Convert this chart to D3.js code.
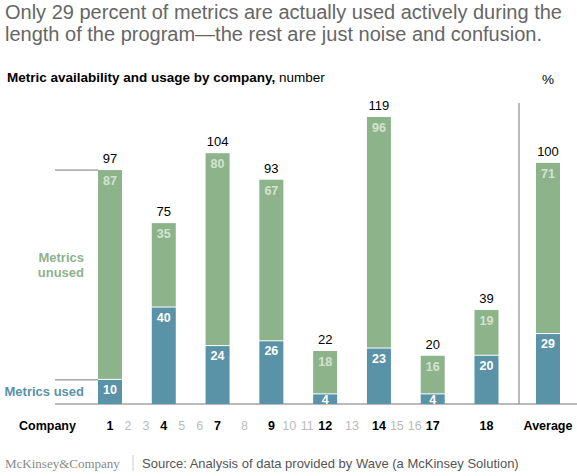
<!DOCTYPE html>
<html>
<head>
  <title>Metric availability and usage</title>
  <script src="https://d3js.org/d3.v7.min.js"></script>
  <style>
    body { margin: 0; font-family: "Liberation Sans", Arial, sans-serif; background: #fff; }
    .title { fill: #666; font-size: 20px; }
    .subtitle { fill: #000; font-size: 13.5px; }
    .total-label { fill: #000; font-size: 13px; text-anchor: middle; }
    .in-label { font-size: 12.5px; font-weight: bold; text-anchor: middle; }
    .co-label { font-size: 12.5px; text-anchor: middle; }
    .foot { fill: #555; font-size: 13px; }
  </style>
</head>
<body>
  <div id="chart"></div>
  <script>
    // data
    const companies = ["1", "4", "7", "9", "12", "14", "17", "18"];
    const usedValues = [10, 40, 24, 26, 4, 23, 4, 20];
    const unusedValues = [87, 35, 80, 67, 18, 96, 16, 19];
    const totals = [97, 75, 104, 93, 22, 119, 20, 39];
    const allCompanies = d3.range(1, 19).map(String);
    const averageUsed = 29;
    const averageUnused = 71;
    const averageTotal = 100;

    const green = "#8db38b";
    const blue = "#5a92a8";

    const width = 577, height = 476;
    const baseY = 404;
    const barW = 24;

    const svg = d3.select("#chart")
      .append("svg")
        .attr("width", width)
        .attr("height", height);

    const x = d3.scalePoint()
      .domain(companies)
      .range([110, 486.5]);
    const xAvg = 548;

    const y = d3.scaleLinear()
      .domain([0, 119])
      .range([baseY, 117]);

    // Title
    const title = svg.append("text").attr("class", "title");
    title.append("tspan").attr("x", 5).attr("y", 19)
      .text("Only 29 percent of metrics are actually used actively during the");
    title.append("tspan").attr("x", 5).attr("y", 41)
      .text("length of the program\u2014the rest are just noise and confusion.");

    const sub = svg.append("text").attr("class", "subtitle").attr("x", 7).attr("y", 82);
    sub.append("tspan").attr("font-weight", "bold").text("Metric availability and usage by company,");
    sub.append("tspan").text(" number");

    svg.append("text")
      .attr("class", "subtitle")
      .attr("x", xAvg)
      .attr("y", 84)
      .attr("text-anchor", "middle")
      .text("%");

    const rows = companies.map((c, i) => ({
      key: c, x: x(c), used: usedValues[i], unused: unusedValues[i], total: totals[i]
    }));
    rows.push({ key: "Average", x: xAvg, used: averageUsed, unused: averageUnused, total: averageTotal });

    // baseline
    svg.append("line")
      .attr("x1", 55).attr("x2", 577)
      .attr("y1", baseY).attr("y2", baseY)
      .attr("stroke", "#777").attr("stroke-width", 1);

    // divider before average
    svg.append("line")
      .attr("x1", 519).attr("x2", 519)
      .attr("y1", 103).attr("y2", baseY)
      .attr("stroke", "#777").attr("stroke-width", 1);

    // leader lines for series labels
    svg.append("line")
      .attr("x1", 55).attr("x2", rows[0].x - barW / 2)
      .attr("y1", y(rows[0].total)).attr("y2", y(rows[0].total))
      .attr("stroke", "#777");
    svg.append("line")
      .attr("x1", 55).attr("x2", rows[0].x - barW / 2)
      .attr("y1", y(rows[0].used)).attr("y2", y(rows[0].used))
      .attr("stroke", "#777");

    const g = svg.selectAll(".bar")
      .data(rows)
      .join("g")
        .attr("class", "bar");

    // used segment
    g.append("rect")
      .attr("x", d => d.x - barW / 2)
      .attr("y", d => y(d.used))
      .attr("width", barW)
      .attr("height", d => baseY - y(d.used))
      .attr("fill", blue);

    // unused segment
    g.append("rect")
      .attr("x", d => d.x - barW / 2)
      .attr("y", d => y(d.total))
      .attr("width", barW)
      .attr("height", d => y(d.used) - y(d.total) - 1)
      .attr("fill", green);

    // totals
    g.append("text")
      .attr("class", "total-label")
      .attr("x", d => d.x)
      .attr("y", d => y(d.total) - 7)
      .text(d => d.total);

    g.append("text")
      .attr("class", "in-label")
      .attr("fill", "#d3e3d0")
      .attr("x", d => d.x)
      .attr("y", d => y(d.total) + 15)
      .text(d => d.unused);

    g.append("text")
      .attr("class", "in-label")
      .attr("fill", "#fff")
      .attr("x", d => d.x)
      .attr("y", d => Math.min(y(d.used) + 14, baseY - 0.5))
      .text(d => d.used);

    // series labels
    const unusedLbl = svg.append("text")
      .attr("text-anchor", "end")
      .attr("font-size", 13)
      .attr("font-weight", "bold")
      .attr("fill", green);
    unusedLbl.append("tspan").attr("x", 84).attr("y", 262).text("Metrics");
    unusedLbl.append("tspan").attr("x", 84).attr("y", 277).text("unused");

    svg.append("text")
      .attr("x", 84).attr("y", 396)
      .attr("text-anchor", "end")
      .attr("font-size", 13)
      .attr("font-weight", "bold")
      .attr("fill", blue)
      .text("Metrics used");

    // company axis labels: highlighted ones at bar positions, others spaced between
    const posOf = {};
    companies.forEach(c => posOf[c] = x(c));
    for (let i = 0; i < companies.length - 1; i++) {
      const a = +companies[i], b = +companies[i + 1];
      for (let k = a + 1; k < b; k++) {
        posOf[k] = x(companies[i]) + (x(companies[i + 1]) - x(companies[i])) * (k - a) / (b - a);
      }
    }

    svg.append("text")
      .attr("x", 19).attr("y", 430)
      .attr("font-size", 12.5)
      .attr("font-weight", "bold")
      .text("Company");

    svg.selectAll(".co-label")
      .data(allCompanies)
      .join("text")
        .attr("class", "co-label")
        .attr("x", d => posOf[d])
        .attr("y", 430)
        .attr("font-weight", d => companies.includes(d) ? "bold" : "normal")
        .attr("fill", d => companies.includes(d) ? "#000" : "#bbb")
        .text(d => d);

    svg.append("text")
      .attr("class", "co-label")
      .attr("x", xAvg).attr("y", 430)
      .attr("font-weight", "bold")
      .text("Average");

    // footer
    svg.append("text")
      .attr("x", 5).attr("y", 468)
      .attr("font-family", "'Liberation Serif', 'Times New Roman', serif")
      .attr("font-size", 13)
      .attr("fill", "#888")
      .text("McKinsey&Company");
    svg.append("line")
      .attr("x1", 133).attr("x2", 133)
      .attr("y1", 455).attr("y2", 471)
      .attr("stroke", "#ccc");
    svg.append("text")
      .attr("class", "foot")
      .attr("x", 142).attr("y", 468)
      .text("Source: Analysis of data provided by Wave (a McKinsey Solution)");
  </script>
</body>
</html>
